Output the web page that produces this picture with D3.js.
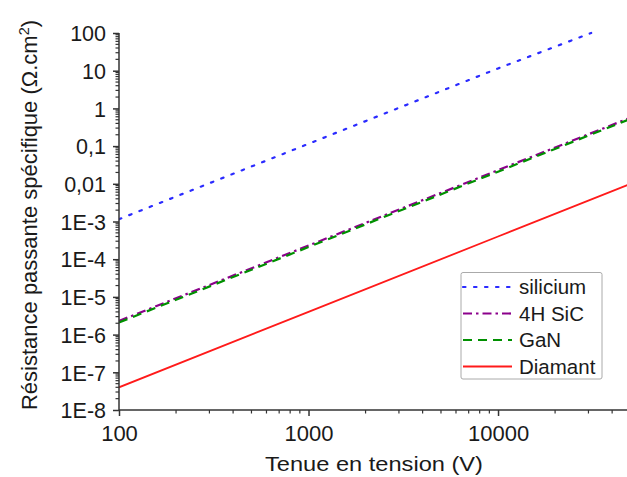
<!DOCTYPE html>
<html><head><meta charset="utf-8">
<script src="https://cdn.jsdelivr.net/npm/d3@7"></script>
<style>body{margin:0;background:#fff}svg{display:block}text{font-family:"Liberation Sans",Arial,sans-serif}</style>
</head><body>
<script>
const voltages = [100, 1000, 10000, 50000];
const siliconVoltages = [100, 1000, 10000, 31000];
const silicon = [1.15e-3, 0.115, 11.5, 100];
const sic4h = [2.3e-6, 2.3e-4, 0.023, 0.57];
const gan = [2.1e-6, 2.1e-4, 0.021, 0.53];
const diamant = [4.0e-8, 4.0e-6, 4.0e-4, 1.0e-2];
const yTickValues = [1e2, 1e1, 1, 0.1, 0.01, 1e-3, 1e-4, 1e-5, 1e-6, 1e-7, 1e-8];
const yTickLabels = ["100", "10", "1", "0,1", "0,01", "1E-3", "1E-4", "1E-5", "1E-6", "1E-7", "1E-8"];
const xTickValues = [100, 1000, 10000];
const xTickLabels = ["100", "1000", "10000"];
const seriesNames = ["silicium", "4H SiC", "GaN", "Diamant"];

const W = 627, H = 477;
const svg = d3.select("body").append("svg").attr("width", W).attr("height", H);
const x = d3.scaleLog().domain([100, 50000]).range([119, 630.5]);
const y = d3.scaleLog().domain([1e-8, 100]).range([410, 33]);

const series = [
  {name: seriesNames[0], xs: siliconVoltages, ys: silicon, color: "#2b2bff", dash: "2.5,8.5", cap: "round", w: 2.2},
  {name: seriesNames[1], xs: voltages, ys: sic4h, color: "#8b008b", dash: "9,4,2.5,4", cap: "butt", w: 2.2},
  {name: seriesNames[2], xs: voltages, ys: gan, color: "#009000", dash: "9,6", cap: "butt", w: 2.2},
  {name: seriesNames[3], xs: voltages, ys: diamant, color: "#ff1a1a", dash: null, cap: "butt", w: 1.8}
];
svg.append("clipPath").attr("id","clip").append("rect").attr("x",119).attr("y",30).attr("width",520).attr("height",380);
const line = d3.line().x(d => x(d[0])).y(d => y(d[1]));
const g = svg.append("g").attr("clip-path","url(#clip)");
series.forEach(s => {
  g.append("path").datum(s.xs.map((v,i)=>[v, s.ys[i]]))
    .attr("d", line).attr("fill","none").attr("stroke", s.color)
    .attr("stroke-width", s.w).attr("stroke-dasharray", s.dash).attr("stroke-linecap", s.cap);
});

// Y axis
const yMinor = [];
for (let e=-8; e<2; e++) for (let k=2;k<=9;k++) yMinor.push(k*Math.pow(10,e));
const yAxis = d3.axisLeft(y).tickValues(yTickValues).tickFormat((d,i)=>yTickLabels[i]).tickSize(6).tickPadding(7);
const ya = svg.append("g").attr("transform","translate(119,0)").call(yAxis);
ya.select(".domain").attr("stroke","#333").attr("stroke-width",1.5).attr("d","M0,33V410");
ya.selectAll(".tick line").attr("stroke","#333").attr("stroke-width",1.5);
ya.selectAll(".tick text").attr("font-size",21.5).attr("fill","#1a1a1a").attr("dy","0.36em");
ya.selectAll(".minor").data(yMinor).enter().append("line").attr("class","minor")
  .attr("x1",-3.5).attr("x2",0).attr("y1",d=>y(d)).attr("y2",d=>y(d)).attr("stroke","#333").attr("stroke-width",1.2);

// X axis
const xMinor = [];
for (let e=2; e<5; e++) for (let k=2;k<=9;k++) { const v=k*Math.pow(10,e); if (v<=50000) xMinor.push(v); }
const xAxis = d3.axisBottom(x).tickValues(xTickValues).tickFormat((d,i)=>xTickLabels[i]).tickSize(6).tickPadding(9);
const xa = svg.append("g").attr("transform","translate(0,410)").call(xAxis);
xa.select(".domain").attr("stroke","#333").attr("stroke-width",1.5).attr("d","M119,0H627");
xa.selectAll(".tick line").attr("stroke","#333").attr("stroke-width",1.5);
xa.selectAll(".tick text").attr("font-size",22).attr("fill","#1a1a1a");
xa.selectAll(".minor").data(xMinor).enter().append("line").attr("class","minor")
  .attr("y1",0).attr("y2",3.5).attr("x1",d=>x(d)).attr("x2",d=>x(d)).attr("stroke","#333").attr("stroke-width",1.2);

// Titles
svg.append("text").attr("x",374).attr("y",471).attr("text-anchor","middle").attr("font-size",21)
  .attr("textLength",218).attr("lengthAdjust","spacingAndGlyphs").attr("fill","#1a1a1a").text("Tenue en tension (V)");
const yt = svg.append("text").attr("transform","translate(37,215) rotate(-90)").attr("text-anchor","middle").attr("font-size",22).attr("fill","#1a1a1a");
yt.append("tspan").text("Résistance passante spécifique (Ω.cm");
yt.append("tspan").attr("font-size",14.5).attr("dy",-8).text("2");
yt.append("tspan").attr("dy",8).text(")");

// Legend
const lg = svg.append("g");
lg.append("rect").attr("x",461).attr("y",272.5).attr("width",141).attr("height",106.5).attr("rx",2)
  .attr("fill","#fff").attr("stroke","#aaa").attr("stroke-width",1);
series.forEach((s,i) => {
  const yy = 287 + i*26.5;
  lg.append("line").attr("x1",463).attr("x2",512).attr("y1",yy).attr("y2",yy)
    .attr("stroke",s.color).attr("stroke-width",s.w).attr("stroke-dasharray",s.dash).attr("stroke-linecap",s.cap);
  lg.append("text").attr("x",519).attr("y",yy).attr("dy","0.36em").attr("font-size",20.5).attr("fill","#1a1a1a").text(s.name);
});
</script>
</body></html>
